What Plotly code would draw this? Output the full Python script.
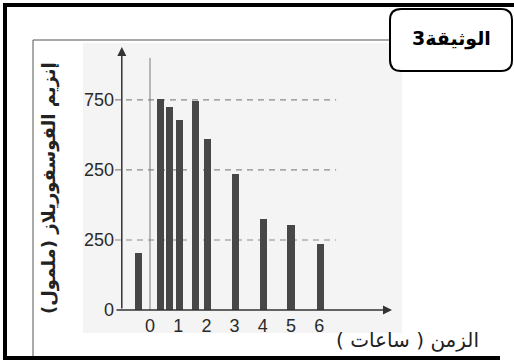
import plotly.graph_objects as go

# ---- data ----
bar_times = [-0.42, 0.38, 0.68, 1.06, 1.60, 2.03, 3.04, 4.02, 5.00, 6.03]
bar_values = [205, 755, 725, 680, 748, 612, 485, 325, 305, 235]
x_tick_vals = [0, 1, 2, 3, 4, 5, 6]
x_tick_text = ["0", "1", "2", "3", "4", "5", "6"]
y_tick_vals = [0, 250, 500, 750]
y_tick_text = ["0", "250", "250", "750"]
grid_values = [250, 500, 750]

doc_title = "الوثيقة3"
x_title = "الزمن ( ساعات )"
y_title = "إنزيم الفوسفوريلاز (ملمول)"

W, H = 514, 361
L, R, T, B = 115, 392, 47, 310  # plot area in pixels
X_RANGE = [-1.241, 8.582]
Y_RANGE = [0, 939]


def px(xp):
    return (xp - L) / (R - L)


def py(yp):
    return (B - yp) / (B - T)


fig = go.Figure()
fig.add_trace(go.Bar(
    x=bar_times, y=bar_values, width=0.25,
    marker=dict(color="#474747", line=dict(width=0)),
    hoverinfo="skip",
))

shapes = []
# light scanned background
shapes.append(dict(type="rect", xref="paper", yref="paper",
                   x0=px(83), x1=px(402), y0=py(333), y1=py(43),
                   fillcolor="#f4f4f4", line=dict(width=0), layer="below"))
# dashed grid lines
for g in grid_values:
    shapes.append(dict(type="line", xref="x", yref="y",
                       x0=X_RANGE[0], x1=6.6, y0=g, y1=g,
                       line=dict(color="#8a8a8a", width=1.2, dash="6px,5px"),
                       layer="below"))
# thin line at t = 0
shapes.append(dict(type="line", xref="x", yref="y", x0=0, x1=0, y0=0, y1=900,
                   line=dict(color="#7a7a7a", width=1)))
# inner frame
shapes.append(dict(type="line", xref="paper", yref="paper",
                   x0=px(33), x1=px(33), y0=py(40), y1=py(358),
                   line=dict(color="#555555", width=1)))
shapes.append(dict(type="line", xref="paper", yref="paper",
                   x0=px(33), x1=px(392), y0=py(40), y1=py(40),
                   line=dict(color="#555555", width=1)))
# outer thick border
shapes.append(dict(type="line", xref="paper", yref="paper",
                   x0=px(5), x1=px(5), y0=py(3), y1=py(360),
                   line=dict(color="black", width=4)))
shapes.append(dict(type="line", xref="paper", yref="paper",
                   x0=px(3), x1=px(514), y0=py(5), y1=py(5),
                   line=dict(color="black", width=4)))
shapes.append(dict(type="line", xref="paper", yref="paper",
                   x0=px(3), x1=px(500), y0=py(358), y1=py(358),
                   line=dict(color="black", width=4)))
# rounded title box
bx0, bx1, by0, by1, r = 390, 512, 9, 71, 11
path = (f"M {px(bx0 + r)} {py(by0)} L {px(bx1 - r)} {py(by0)} "
        f"Q {px(bx1)} {py(by0)} {px(bx1)} {py(by0 + r)} "
        f"L {px(bx1)} {py(by1 - r)} Q {px(bx1)} {py(by1)} {px(bx1 - r)} {py(by1)} "
        f"L {px(bx0 + r)} {py(by1)} Q {px(bx0)} {py(by1)} {px(bx0)} {py(by1 - r)} "
        f"L {px(bx0)} {py(by0 + r)} Q {px(bx0)} {py(by0)} {px(bx0 + r)} {py(by0)} Z")
shapes.append(dict(type="path", xref="paper", yref="paper", path=path,
                   fillcolor="white", line=dict(color="black", width=2)))

annotations = []
# axes with arrows
annotations.append(dict(x=X_RANGE[1], y=0, ax=X_RANGE[0], ay=0,
                        xref="x", yref="y", axref="x", ayref="y", text="",
                        showarrow=True, arrowhead=2, arrowsize=1.2,
                        arrowwidth=1.5, arrowcolor="#333333"))
annotations.append(dict(x=-1.0, y=Y_RANGE[1], ax=-1.0, ay=0,
                        xref="x", yref="y", axref="x", ayref="y", text="",
                        showarrow=True, arrowhead=2, arrowsize=1.2,
                        arrowwidth=1.5, arrowcolor="#333333"))
annotations.append(dict(x=px(451), y=py(38), xref="paper", yref="paper",
                        xanchor="center", yanchor="middle",
                        text=f"<b>{doc_title}</b>", showarrow=False,
                        font=dict(family="DejaVu Sans", size=19, color="black")))
annotations.append(dict(x=px(407), y=py(340), xref="paper", yref="paper",
                        xanchor="center", yanchor="middle",
                        text=x_title, showarrow=False,
                        font=dict(family="DejaVu Sans", size=20, color="#222222")))
annotations.append(dict(x=px(49), y=py(188), xref="paper", yref="paper",
                        xanchor="center", yanchor="middle",
                        text=f"<b>{y_title}</b>", showarrow=False, textangle=-90,
                        font=dict(family="DejaVu Sans", size=18, color="#222222")))

tick_font = dict(family="Liberation Sans Narrow, Liberation Sans, Arial",
                 size=18, color="#2a2a2a")

fig.update_layout(
    width=W, height=H,
    margin=dict(l=L, r=W - R, t=T, b=H - B, pad=0),
    paper_bgcolor="white", plot_bgcolor="rgba(0,0,0,0)",
    showlegend=False, bargap=0,
    xaxis=dict(range=X_RANGE, tickvals=x_tick_vals, ticktext=x_tick_text,
               showgrid=False, zeroline=False, showline=False, ticks="",
               ticklabelstandoff=3,
               tickfont=tick_font, fixedrange=True),
    yaxis=dict(range=Y_RANGE, tickvals=y_tick_vals, ticktext=y_tick_text,
               showgrid=False, zeroline=False, showline=False, ticks="",
               tickfont=tick_font, fixedrange=True),
    shapes=shapes, annotations=annotations,
)

fig.write_html("out.html", config={"displayModeBar": False},
               post_script="document.body.style.margin='0';document.body.style.overflow='hidden';")
